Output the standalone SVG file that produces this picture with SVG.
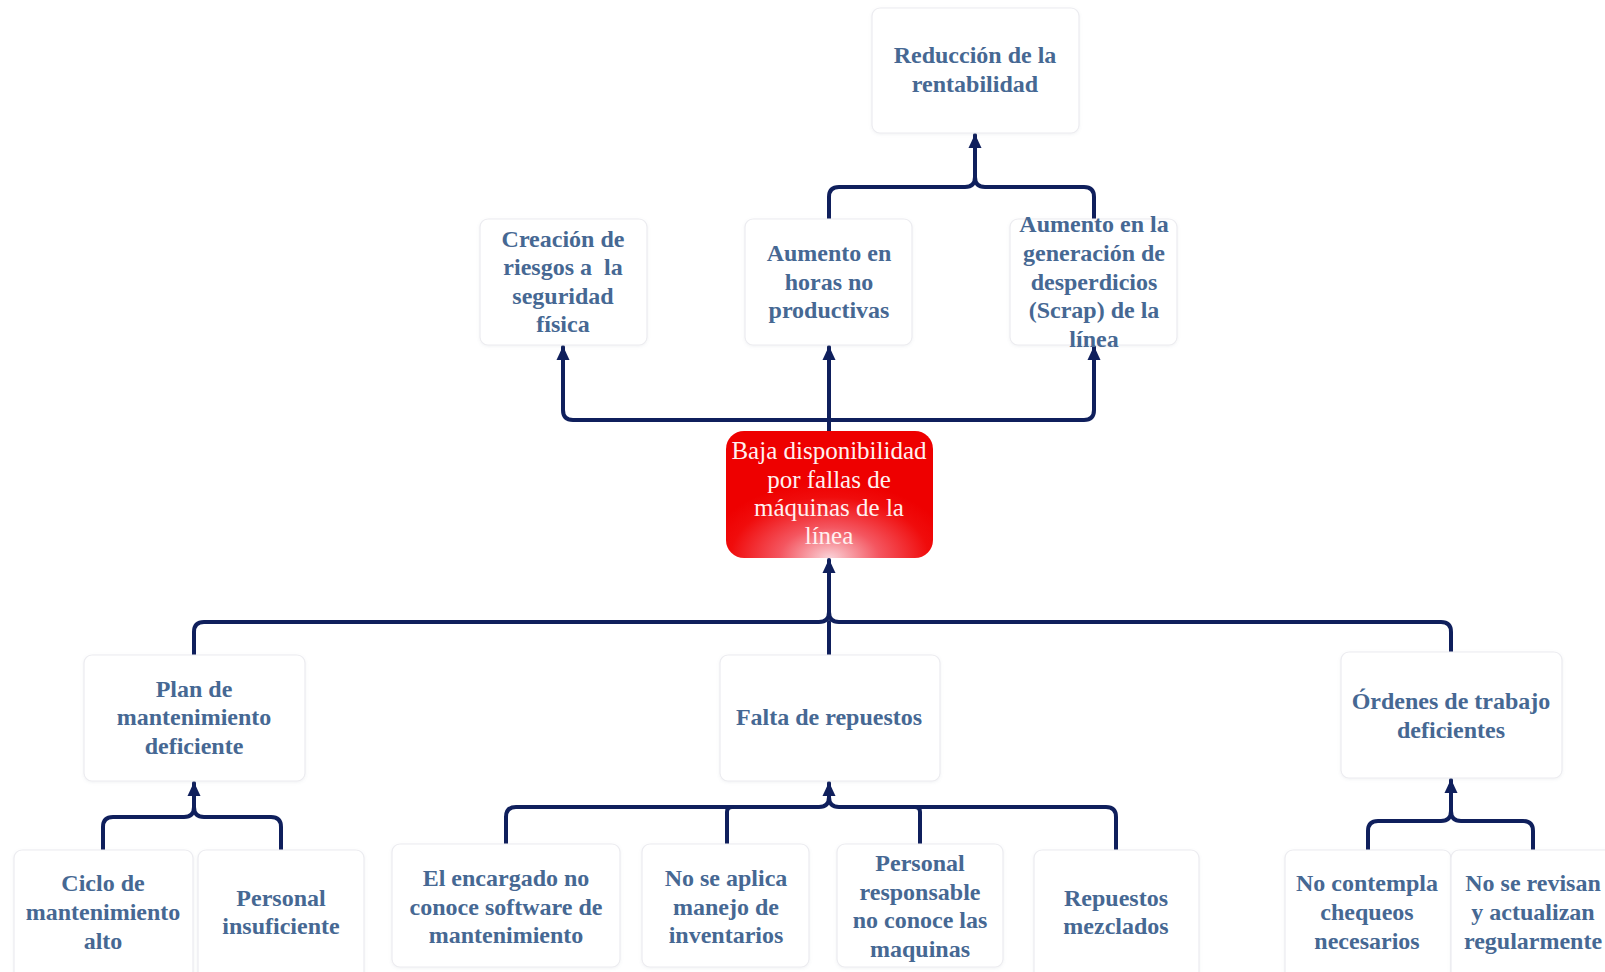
<svg xmlns="http://www.w3.org/2000/svg" width="1605" height="972" viewBox="0 0 1605 972">
  <style>
    .box { fill: #ffffff; stroke: #ececf0; stroke-width: 1.2; filter: url(#soft); }
    .lbl { font-family: "Liberation Serif", "Times New Roman", serif; font-weight: bold; font-size: 24px; fill: #466893; text-anchor: middle; }
    .core { font-family: "Liberation Serif", "Times New Roman", serif; font-size: 25px; fill: #fff0f0; text-anchor: middle; }
    .wire { fill: none; stroke: #0f1f5c; stroke-width: 4; stroke-linecap: round; stroke-linejoin: round; }
    .tip { marker-end: url(#arrow); }
  </style>
  <defs>
    <filter id="soft" x="-10%" y="-10%" width="120%" height="120%">
      <feDropShadow dx="0" dy="1" stdDeviation="1.5" flood-color="#8090a0" flood-opacity="0.12"/>
    </filter>
    <radialGradient id="redFill" cx="0.5" cy="1" r="0.6" fx="0.5" fy="1">
      <stop offset="0" stop-color="#fad2d8"/>
      <stop offset="0.4" stop-color="#f45660"/>
      <stop offset="0.8" stop-color="#f00c0c"/>
      <stop offset="1" stop-color="#ee0000"/>
    </radialGradient>
    <marker id="arrow" viewBox="0 0 14 14" refX="13" refY="7" markerWidth="14" markerHeight="14" markerUnits="userSpaceOnUse" orient="auto">
      <path d="M0,0.5 L14,7 L0,13.5 Z" fill="#0f1f5c"/>
    </marker>
  </defs>

  <!-- connectors -->
  <g id="connectors">
    <!-- effects above the central problem -->
    <path class="wire tip" d="M829,432 L829,347"/>
    <path class="wire tip" d="M829,420 L573,420 Q563,420 563,410 L563,347"/>
    <path class="wire tip" d="M829,420 L1084,420 Q1094,420 1094,410 L1094,347"/>
    <path class="wire tip" d="M829,219 L829,197 Q829,187 839,187 L965,187 Q975,187 975,177 L975,135"/>
    <path class="wire" d="M1094,219 L1094,197 Q1094,187 1084,187 L985,187 Q975,187 975,177"/>
    <!-- causes below the central problem -->
    <path class="wire tip" d="M194,655 L194,632 Q194,622 204,622 L819,622 Q829,622 829,612 L829,560"/>
    <path class="wire" d="M1451,652 L1451,632 Q1451,622 1441,622 L839,622 Q829,622 829,612"/>
    <path class="wire" d="M829,655 L829,622"/>
    <!-- plan de mantenimiento -->
    <path class="wire tip" d="M103,850 L103,827 Q103,817 113,817 L184,817 Q194,817 194,807 L194,783"/>
    <path class="wire" d="M281,850 L281,827 Q281,817 271,817 L204,817 Q194,817 194,807"/>
    <!-- falta de repuestos -->
    <path class="wire tip" d="M506,844 L506,817 Q506,807 516,807 L819,807 Q829,807 829,797 L829,783"/>
    <path class="wire" d="M1116,850 L1116,817 Q1116,807 1106,807 L839,807 Q829,807 829,797"/>
    <path class="wire" d="M727,844 L727,812 Q727,807 732,807"/>
    <path class="wire" d="M920,844 L920,812 Q920,807 915,807"/>
    <!-- ordenes de trabajo -->
    <path class="wire tip" d="M1368,850 L1368,831 Q1368,821 1378,821 L1441,821 Q1451,821 1451,811 L1451,780"/>
    <path class="wire" d="M1533,850 L1533,831 Q1533,821 1523,821 L1461,821 Q1451,821 1451,811"/>
  </g>

  <!-- top effect -->
  <g id="n-rentabilidad">
    <rect class="box" x="872" y="8" width="207" height="125" rx="8"/>
    <text class="lbl" x="975" y="63">Reducción de la</text>
    <text class="lbl" x="975" y="92">rentabilidad</text>
  </g>

  <!-- direct effects -->
  <g id="n-riesgos">
    <rect class="box" x="480" y="219" width="167" height="126" rx="8"/>
    <text class="lbl" x="563" y="247">Creación de</text>
    <text class="lbl" x="563" y="275" xml:space="preserve">riesgos a  la</text>
    <text class="lbl" x="563" y="304">seguridad</text>
    <text class="lbl" x="563" y="332">física</text>
  </g>
  <g id="n-horas">
    <rect class="box" x="745" y="219" width="167" height="126" rx="8"/>
    <text class="lbl" x="829" y="261">Aumento en</text>
    <text class="lbl" x="829" y="290">horas no</text>
    <text class="lbl" x="829" y="318">productivas</text>
  </g>
  <g id="n-scrap">
    <rect class="box" x="1010" y="219" width="167" height="126" rx="8"/>
    <text class="lbl" x="1094" y="232">Aumento en la</text>
    <text class="lbl" x="1094" y="261">generación de</text>
    <text class="lbl" x="1094" y="290">desperdicios</text>
    <text class="lbl" x="1094" y="318">(Scrap) de la</text>
    <text class="lbl" x="1094" y="347">línea</text>
  </g>

  <!-- central problem -->
  <g id="n-problema">
    <rect x="726" y="431" width="207" height="127" rx="18" fill="url(#redFill)"/>
    <text class="core" x="829" y="459">Baja disponibilidad</text>
    <text class="core" x="829" y="488">por fallas de</text>
    <text class="core" x="829" y="516">máquinas de la</text>
    <text class="core" x="829" y="544">línea</text>
  </g>

  <!-- main causes -->
  <g id="n-plan">
    <rect class="box" x="84" y="655" width="221" height="126" rx="8"/>
    <text class="lbl" x="194" y="697">Plan de</text>
    <text class="lbl" x="194" y="725">mantenimiento</text>
    <text class="lbl" x="194" y="754">deficiente</text>
  </g>
  <g id="n-repuestos">
    <rect class="box" x="720" y="655" width="220" height="126" rx="8"/>
    <text class="lbl" x="829" y="725">Falta de repuestos</text>
  </g>
  <g id="n-ordenes">
    <rect class="box" x="1341" y="652" width="221" height="126" rx="8"/>
    <text class="lbl" x="1451" y="709">Órdenes de trabajo</text>
    <text class="lbl" x="1451" y="738">deficientes</text>
  </g>

  <!-- sub-causes -->
  <g id="n-ciclo">
    <rect class="box" x="14" y="850" width="179" height="130" rx="8"/>
    <text class="lbl" x="103" y="891">Ciclo de</text>
    <text class="lbl" x="103" y="920">mantenimiento</text>
    <text class="lbl" x="103" y="949">alto</text>
  </g>
  <g id="n-personal">
    <rect class="box" x="198" y="850" width="166" height="130" rx="8"/>
    <text class="lbl" x="281" y="906">Personal</text>
    <text class="lbl" x="281" y="934">insuficiente</text>
  </g>
  <g id="n-software">
    <rect class="box" x="392" y="844" width="228" height="123" rx="8"/>
    <text class="lbl" x="506" y="886">El encargado no</text>
    <text class="lbl" x="506" y="915">conoce software de</text>
    <text class="lbl" x="506" y="943">mantenimiento</text>
  </g>
  <g id="n-inventarios">
    <rect class="box" x="642" y="844" width="167" height="123" rx="8"/>
    <text class="lbl" x="726" y="886">No se aplica</text>
    <text class="lbl" x="726" y="915">manejo de</text>
    <text class="lbl" x="726" y="943">inventarios</text>
  </g>
  <g id="n-responsable">
    <rect class="box" x="837" y="844" width="166" height="123" rx="8"/>
    <text class="lbl" x="920" y="871">Personal</text>
    <text class="lbl" x="920" y="900">responsable</text>
    <text class="lbl" x="920" y="928">no conoce las</text>
    <text class="lbl" x="920" y="957">maquinas</text>
  </g>
  <g id="n-mezclados">
    <rect class="box" x="1034" y="850" width="165" height="130" rx="8"/>
    <text class="lbl" x="1116" y="906">Repuestos</text>
    <text class="lbl" x="1116" y="934">mezclados</text>
  </g>
  <g id="n-chequeos">
    <rect class="box" x="1285" y="850" width="166" height="130" rx="8"/>
    <text class="lbl" x="1367" y="891">No contempla</text>
    <text class="lbl" x="1367" y="920">chequeos</text>
    <text class="lbl" x="1367" y="949">necesarios</text>
  </g>
  <g id="n-revision">
    <rect class="box" x="1451" y="850" width="170" height="130" rx="8"/>
    <text class="lbl" x="1533" y="891">No se revisan</text>
    <text class="lbl" x="1533" y="920">y actualizan</text>
    <text class="lbl" x="1533" y="949">regularmente</text>
  </g>
</svg>
